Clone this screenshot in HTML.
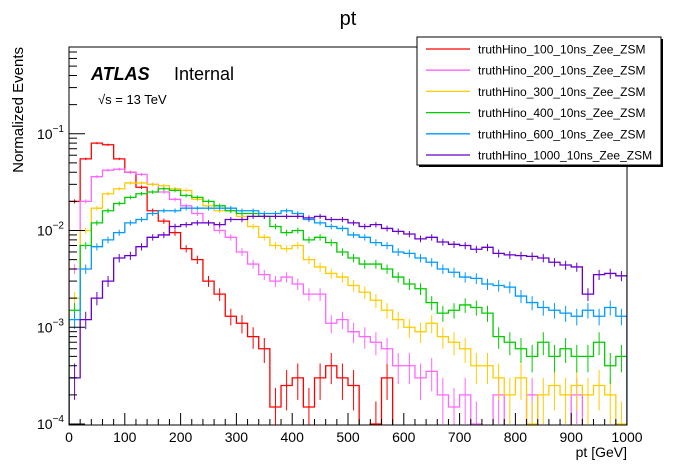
<!DOCTYPE html>
<html><head><meta charset="utf-8"><style>
body{margin:0;background:#fff;}
svg{display:block;font-family:"Liberation Sans",Arial,sans-serif;}
</style></head><body>
<svg id="chart" width="696" height="472" viewBox="0 0 696 472">
<defs><clipPath id="plotclip"><rect x="69" y="47" width="558" height="378"/></clipPath></defs>
<text x="348" y="25" font-size="20" text-anchor="middle">pt</text>
<g id="series" clip-path="url(#plotclip)"></g>
<rect x="69" y="47" width="558" height="378" fill="none" stroke="#000" stroke-width="1"/>
<g id="axes"></g>
<text x="627" y="457" font-size="14" text-anchor="end">pt [GeV]</text>
<text transform="translate(23,47) rotate(-90)" font-size="15" text-anchor="end">Normalized Events</text>
<text x="91" y="80" font-size="18" font-weight="bold" font-style="italic">ATLAS</text>
<text x="174" y="80" font-size="18">Internal</text>
<text x="98" y="104" font-size="13">√s = 13 TeV</text>
<g id="legend">
<rect x="419" y="39" width="244" height="128" fill="#000"/>
<rect x="417" y="37" width="244" height="128" fill="#fff" stroke="#000" stroke-width="1"/>
</g>
</svg>
<script>
const binEdges0 = 0, binWidth = 20;
const seriesNames = ["truthHino_100_10ns_Zee_ZSM","truthHino_200_10ns_Zee_ZSM","truthHino_300_10ns_Zee_ZSM","truthHino_400_10ns_Zee_ZSM","truthHino_600_10ns_Zee_ZSM","truthHino_1000_10ns_Zee_ZSM"];
const seriesColors = ["#ff0000","#ff66ff","#ffcc00","#00cc00","#0099ff","#6600cc"];
const xTicks = [0,100,200,300,400,500,600,700,800,900,1000];
const yTickExps = [-4,-3,-2,-1];
const red = [0.02,0.055,0.08,0.077,0.055,0.04,0.028,0.016,0.0125,0.0095,0.0065,0.005,0.003,0.0022,0.0013,0.0011,0.0008,0.0006,0.00015,0.00025,0.0003,0.00015,0.0003,0.0004,0.0003,0.00025,0,0.0001,0.0003,0,0,0,0,0,0,0,0,0,0,0,0,0,0,0,0,0,0,0,0,0];
const pink = [0.004,0.02,0.036,0.042,0.043,0.04,0.038,0.03,0.025,0.021,0.018,0.015,0.012,0.01,0.0085,0.006,0.0045,0.0035,0.003,0.0033,0.0028,0.0022,0.0022,0.0011,0.0012,0.0009,0.0008,0.0007,0.0006,0.0004,0.0004,0.0003,0.00035,0.0002,0.00015,0.0002,0.0001,0,0.0002,0,0,0.0002,0,0,0,0.0002,0,0,0,0];
const yellow = [0.002,0.01,0.017,0.024,0.027,0.031,0.031,0.03,0.029,0.027,0.026,0.021,0.018,0.016,0.016,0.014,0.011,0.0085,0.007,0.0065,0.007,0.005,0.0042,0.0036,0.0033,0.0027,0.0023,0.0019,0.0015,0.0012,0.001,0.0009,0.0011,0.0008,0.0007,0.0006,0.0004,0.0004,0.0003,0.0002,0.0003,0.0001,0.0002,0.00025,0.0002,0.00025,0.0002,0.00025,0.0002,0.0001];
const green = [0.0015,0.007,0.012,0.016,0.019,0.022,0.024,0.025,0.027,0.026,0.023,0.022,0.02,0.018,0.016,0.015,0.015,0.014,0.011,0.0095,0.01,0.008,0.0085,0.0075,0.006,0.0052,0.0045,0.0045,0.004,0.0033,0.0028,0.0025,0.0018,0.0014,0.0015,0.0017,0.0016,0.0014,0.0008,0.0007,0.0006,0.0005,0.0007,0.0005,0.0006,0.0005,0.0005,0.0007,0.0004,0.0005];
const blue = [0.0012,0.004,0.0068,0.008,0.0095,0.012,0.013,0.015,0.016,0.016,0.017,0.017,0.017,0.017,0.017,0.016,0.016,0.015,0.015,0.016,0.015,0.013,0.012,0.011,0.0105,0.009,0.0085,0.0075,0.007,0.006,0.0058,0.0052,0.0047,0.004,0.0037,0.0033,0.0032,0.0028,0.0027,0.0026,0.0021,0.0018,0.0016,0.0015,0.0014,0.0013,0.0015,0.0013,0.0016,0.0013];
const purple = [0.0003,0.0012,0.002,0.003,0.0052,0.0055,0.0068,0.0085,0.009,0.011,0.0115,0.012,0.012,0.0115,0.013,0.013,0.014,0.014,0.014,0.014,0.014,0.0135,0.014,0.013,0.013,0.012,0.011,0.0115,0.0105,0.0098,0.0092,0.0082,0.0085,0.0076,0.0072,0.007,0.0064,0.0067,0.0058,0.0056,0.0055,0.0054,0.0052,0.0047,0.0044,0.0042,0.0022,0.0035,0.0036,0.0034];
const allSeries = [red,pink,yellow,green,blue,purple];

const NS="http://www.w3.org/2000/svg";
const X0=69,X1=627,YB=424,DEC=96.75;
function xs(g){return X0+(g/1000)*(X1-X0);}
function ys(v){ if(v<=0) return 440; return YB-(Math.log10(v)+4)*DEC; }
function mk(tag,attrs,parent){const e=document.createElementNS(NS,tag);for(const k in attrs)e.setAttribute(k,attrs[k]);parent.appendChild(e);return e;}

const sg=document.getElementById('series');
allSeries.forEach((arr,si)=>{
  const g=mk('g',{},sg);
  
  
  let d='M'+xs(binEdges0)+' 440';
  arr.forEach((v,i)=>{
    const xa=xs(binEdges0+i*binWidth), xb=xs(binEdges0+(i+1)*binWidth), y=ys(v);
    d+=' L'+xa+' '+y+' L'+xb+' '+y;
  });
  d+=' L'+xs(1000)+' 440';
  const p=mk('path',{d:d,fill:'none',stroke:seriesColors[si],'stroke-width':1.3},g);
  
  
  let ed='';
  arr.forEach((v,i)=>{
    if(v<=0) return;
    const rel=Math.min(0.8,1/Math.sqrt(v*20000));
    const xc=xs(binEdges0+(i+0.5)*binWidth);
    ed+=' M'+xc+' '+ys(v*(1+rel))+' L'+xc+' '+ys(Math.max(v*(1-rel),1e-5));
  });
  const e=mk('path',{d:ed,fill:'none',stroke:seriesColors[si],'stroke-width':1},g);
  
  
});

const ax=document.getElementById('axes');
xTicks.forEach((t,i)=>{
  const x=xs(t);
  const l=mk('line',{x1:x,x2:x,y1:425,y2:413,stroke:'#000'},ax);
  
  
  const tx=mk('text',{x:x,y:442,'font-size':14,'text-anchor':'middle'},ax);
  tx.textContent=t;
  
  
  if(i<xTicks.length-1){
    for(let m=1;m<5;m++){
      const xm=xs(t+m*20);
      const lm=mk('line',{x1:xm,x2:xm,y1:425,y2:419,stroke:'#000'},ax);
      
      
    }
  }
});
for(let ex=-4;ex<=-1;ex++){
  const y=ys(Math.pow(10,ex));
  const l=mk('line',{x1:69,x2:85,y1:y,y2:y,stroke:'#000'},ax);
  
  
  for(let m=2;m<10;m++){
    const ym=ys(m*Math.pow(10,ex));
    if(ym<47) continue;
    const lm=mk('line',{x1:69,x2:77,y1:ym,y2:ym,stroke:'#000'},ax);
    
    
  }
}
yTickExps.forEach(ex=>{
  const y=ys(Math.pow(10,ex));
  const t=mk('text',{x:37,y:y+5,'font-size':14},ax);
  
  
  t.textContent='10';
  const s=mk('tspan',{dy:-7,'font-size':10},t);
  s.textContent=String(ex).replace('-','\u2212');
});

const lg=document.getElementById('legend');
seriesNames.forEach((n,i)=>{
  const y=49+i*21.2;
  const l=mk('line',{x1:426,x2:470,y1:y,y2:y,stroke:seriesColors[i],'stroke-width':1.3},lg);
  
  
  const t=mk('text',{x:478,y:y+4.5,'font-size':12},lg);
  t.textContent=n;
  
  
});
</script>
</body></html>
